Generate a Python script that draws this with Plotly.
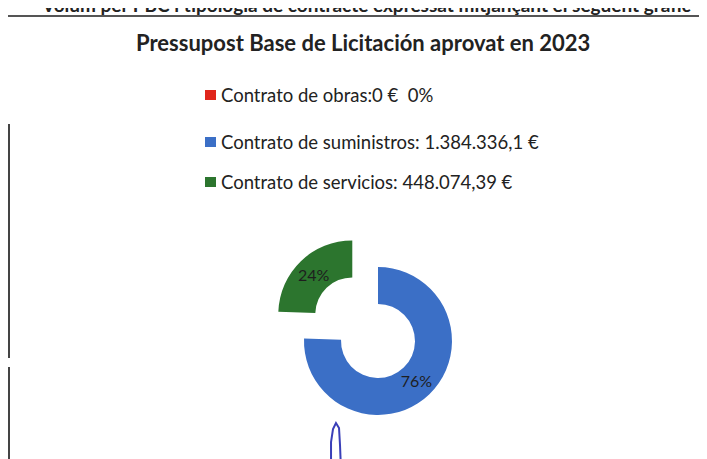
import plotly.graph_objects as go

# data
labels = ["Contrato de obras", "Contrato de suministros", "Contrato de servicios"]
values = [0, 1384336.1, 448074.39]
legend_texts = [
    "Contrato de obras:0 €  0%",
    "Contrato de suministros: 1.384.336,1 €",
    "Contrato de servicios: 448.074,39 €",
]
colors = ["#e0261c", "#3b6fc6", "#2c752e"]
pulls = [0, 0, 0.5]

W, H = 707, 459
OFF = 8  # default body margin of the html page


def px(x):
    # screen pixel -> paper fraction
    return (x - OFF) / W


def py(y):
    # screen pixel from top -> paper fraction from bottom
    return 1 - (y - OFF) / H


fig = go.Figure()

fig.add_trace(go.Pie(
    labels=labels,
    values=values,
    hole=0.5,
    sort=False,
    direction="clockwise",
    rotation=0,
    pull=pulls,
    marker=dict(colors=colors, line=dict(width=0)),
    texttemplate=["" if v == 0 else "%{percent:.0%}" for v in values],
    textposition="inside",
    insidetextorientation="horizontal",
    textfont=dict(family="Lato, sans-serif", size=16, color="#1e1e1e"),
    domain=dict(x=[px(378 - 111), px(378 + 111)], y=[py(341 + 111), py(341 - 111)]),
    showlegend=False,
    hoverinfo="label+value+percent",
))

annotations = [
    # header line of the document, cut at the top edge as in the scan
    dict(text="<b>Volum per PBC i tipologia de contracte expressat mitjançant el següent gràfic</b>",
         x=px(366), y=py(18.5), xref="paper", yref="paper", xanchor="center", yanchor="bottom",
         showarrow=False, font=dict(family="Lato, sans-serif", size=19, color="#222")),
    dict(text="<b>Pressupost Base de Licitación aprovat en 2023</b>",
         x=px(363), y=py(42), xref="paper", yref="paper", xanchor="center", yanchor="middle",
         showarrow=False, font=dict(family="Lato, sans-serif", size=22, color="#222")),
]

shapes = [
    dict(type="line", xref="paper", yref="paper", x0=px(8), x1=px(715), y0=py(16), y1=py(16),
         line=dict(color="#555", width=2)),
    dict(type="line", xref="paper", yref="paper", x0=px(9), x1=px(9), y0=py(124), y1=py(358),
         line=dict(color="#444", width=2)),
    dict(type="line", xref="paper", yref="paper", x0=px(9), x1=px(9), y0=py(367), y1=py(470),
         line=dict(color="#444", width=2)),
]

# handmade legend
legend_y = [95, 142, 182]
for txt, col, ly in zip(legend_texts, colors, legend_y):
    shapes.append(dict(type="rect", xref="paper", yref="paper",
                       x0=px(205), x1=px(216), y0=py(ly + 5), y1=py(ly - 5),
                       fillcolor=col, line=dict(width=0)))
    annotations.append(dict(text=txt, x=px(219), y=py(ly), xref="paper", yref="paper",
                            xanchor="left", yanchor="middle", showarrow=False,
                            font=dict(family="Lato, sans-serif", size=18.5, color="#222")))

# blue handwritten stroke at the bottom
pts = [(331, 470), (331, 442), (333, 429), (336, 423), (339, 428), (340, 445), (341, 470)]
path = "M " + " L ".join(f"{px(x):.4f},{py(y):.4f}" for x, y in pts)
shapes.append(dict(type="path", xref="paper", yref="paper", path=path,
                   line=dict(color="#3a3fb8", width=2)))

fig.update_layout(
    width=W, height=H,
    margin=dict(l=0, r=0, t=0, b=0),
    paper_bgcolor="white",
    plot_bgcolor="white",
    annotations=annotations,
    shapes=shapes,
)

fig.write_html("out.html")
